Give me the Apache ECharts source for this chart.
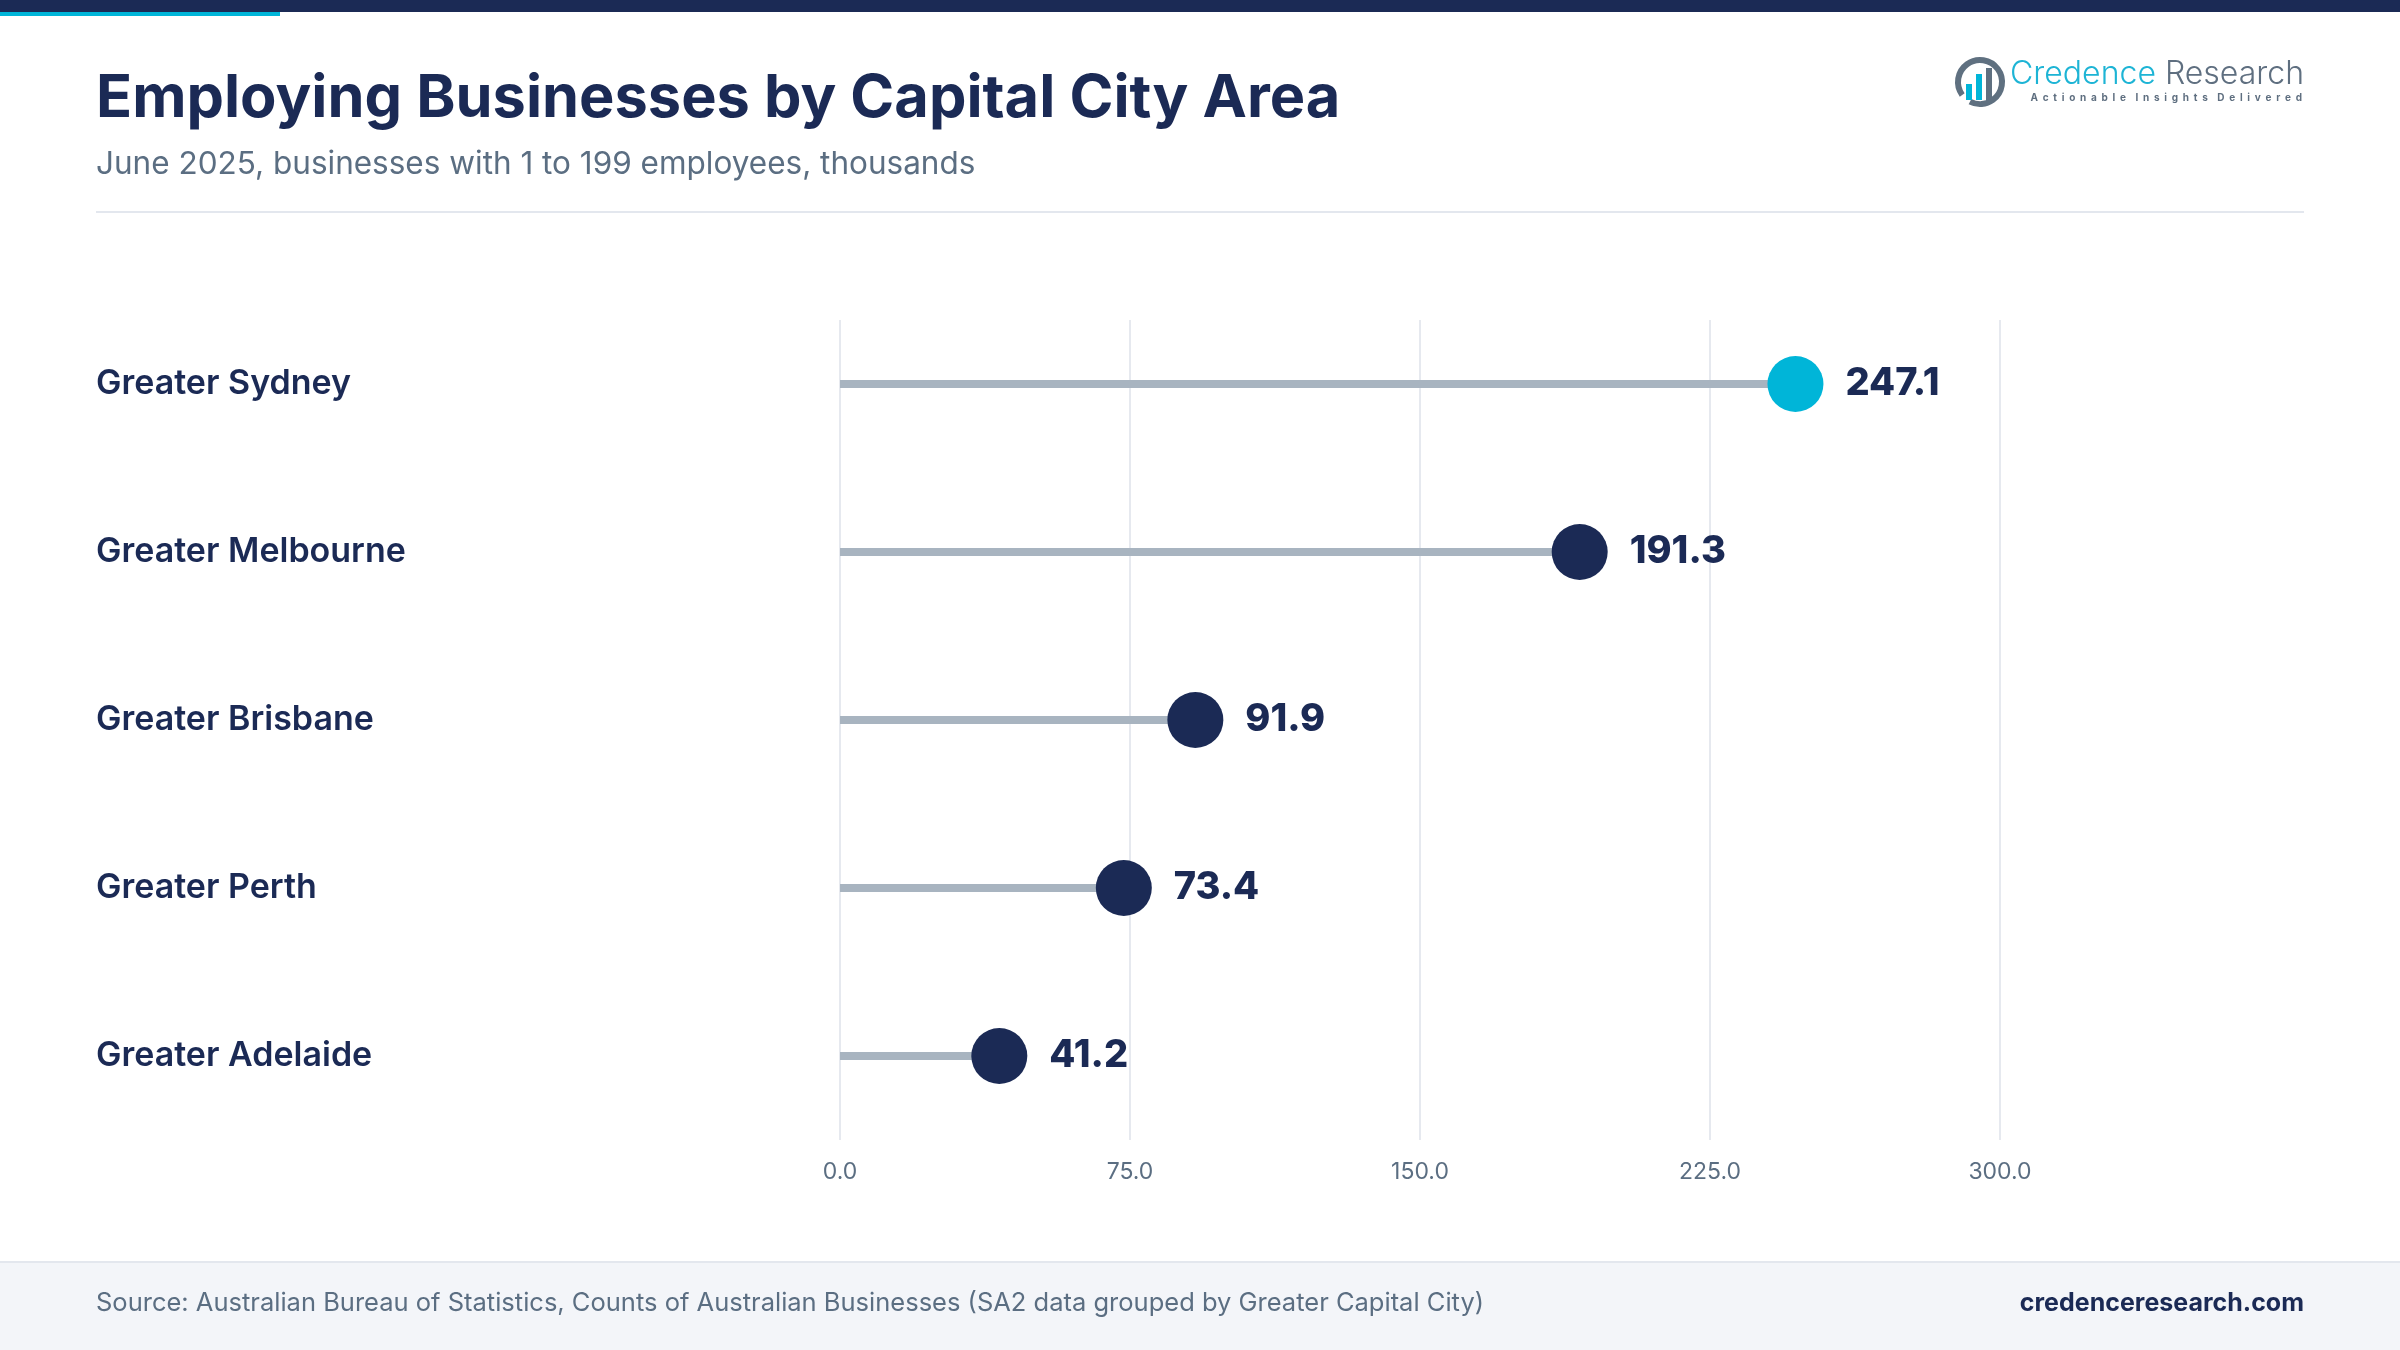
<!DOCTYPE html>
<html>
<head>
<meta charset="utf-8">
<script src="https://cdn.jsdelivr.net/npm/echarts@6/dist/echarts.min.js"></script>
<style>
  html, body { margin: 0; padding: 0; background: #fff; }
  #chart { width: 2400px; height: 1350px; }
</style>
</head>
<body>
<div id="chart"></div>
<script>
// data
const categories = ['Greater Sydney', 'Greater Melbourne', 'Greater Brisbane', 'Greater Perth', 'Greater Adelaide']
const values = [247.1, 191.3, 91.9, 73.4, 41.2]
const highlightIndex = 0
const xMin = 0
const xMax = 300
const xStep = 75

const NAVY = '#1b2a55'
const CYAN = '#00b5d8'
const STEM = '#a8b4c0'
const MUTED = '#5b6e82'
const FONT = 'Inter, "Open Sans", sans-serif'

const chart = echarts.init(document.getElementById('chart'))

const option = {
  backgroundColor: '#ffffff',
  textStyle: { fontFamily: FONT },
  title: [
    {
      text: 'Employing Businesses by Capital City Area',
      left: 91,
      top: 61,
      textStyle: { color: NAVY, fontSize: 59.5, fontWeight: 700, lineHeight: 66, fontFamily: FONT }
    },
    {
      text: 'June 2025, businesses with 1 to 199 employees, thousands',
      left: 91,
      top: 141,
      textStyle: { color: MUTED, fontSize: 31.5, fontWeight: 400, lineHeight: 38, fontFamily: FONT }
    }
  ],
  grid: [
    // data grid
    { left: 840, right: 400, top: 300, bottom: 210 },
    // grid carrying the value-axis gridlines and tick labels
    { left: 840, right: 400, top: 320, bottom: 210 }
  ],
  xAxis: [
    { gridIndex: 0, type: 'value', min: xMin, max: xMax, show: false },
    {
      gridIndex: 1,
      type: 'value',
      min: xMin,
      max: xMax,
      interval: xStep,
      axisLine: { show: false },
      axisTick: { show: false },
      splitLine: { lineStyle: { color: '#e6e9ef', width: 2 } },
      axisLabel: {
        color: MUTED,
        fontSize: 23,
        margin: 21,
        formatter: v => v.toFixed(1)
      }
    }
  ],
  yAxis: [
    {
      gridIndex: 0,
      type: 'category',
      data: categories,
      inverse: true,
      axisLine: { show: false },
      axisTick: { show: false },
      axisLabel: {
        align: 'left',
        margin: 744,
        color: NAVY,
        fontSize: 34,
        fontWeight: 600
      }
    },
    { gridIndex: 1, type: 'value', min: 0, max: 1, show: false }
  ],
  series: [
    {
      type: 'bar',
      xAxisIndex: 0,
      yAxisIndex: 0,
      barWidth: 8,
      silent: true,
      itemStyle: { color: STEM },
      data: values
    },
    {
      type: 'scatter',
      xAxisIndex: 0,
      yAxisIndex: 0,
      symbolSize: 56,
      z: 3,
      itemStyle: { opacity: 1 },
      data: values.map((v, i) => ({
        value: [v, i],
        itemStyle: { color: i === highlightIndex ? CYAN : NAVY, opacity: 1 }
      })),
      label: {
        show: true,
        position: 'right',
        distance: 22,
        color: NAVY,
        fontSize: 38,
        fontWeight: 800,
        formatter: p => p.value[0].toFixed(1)
      }
    }
  ],
  graphic: [
    // top band
    { type: 'rect', left: 0, top: 0, shape: { width: 2400, height: 12 }, style: { fill: NAVY }, silent: true },
    { type: 'rect', left: 0, top: 12, shape: { width: 280, height: 4 }, style: { fill: CYAN }, silent: true },
    // divider under the subtitle
    { type: 'line', shape: { x1: 96, y1: 212, x2: 2304, y2: 212 }, style: { stroke: '#e3e7ee', lineWidth: 2 }, silent: true },
    // logo
    { type: 'arc', shape: { cx: 1980, cy: 82, r: 22, startAngle: Math.PI * 0.8, endAngle: Math.PI * 0.65 + Math.PI * 2 }, style: { stroke: '#5f7080', lineWidth: 6, fill: null }, silent: true },
    { type: 'rect', shape: { x: 1966, y: 84, width: 6, height: 16 }, style: { fill: CYAN }, silent: true },
    { type: 'rect', shape: { x: 1976, y: 74, width: 6, height: 26 }, style: { fill: CYAN }, silent: true },
    { type: 'rect', shape: { x: 1986, y: 68, width: 6, height: 32 }, style: { fill: '#5f7080' }, silent: true },
    {
      type: 'text',
      style: {
        x: 2304,
        y: 74,
        text: '{a|Credence}{b| Research}',
        align: 'right',
        verticalAlign: 'middle',
        rich: {
          a: { fontFamily: FONT, fontSize: 32, fontWeight: 300, fill: '#1db4d5' },
          b: { fontFamily: FONT, fontSize: 32, fontWeight: 300, fill: '#5f6f80' }
        }
      },
      silent: true
    },
    {
      type: 'text',
      style: {
        x: 2302,
        y: 98,
        text: 'A  c  t  i  o  n  a  b  l  e    I  n  s  i  g  h  t  s    D  e  l  i  v  e  r  e  d',
        align: 'right',
        verticalAlign: 'middle',
        fontFamily: FONT,
        fontSize: 10,
        fontWeight: 700,
        fill: '#5f6f80'
      },
      silent: true
    },
    // footer
    { type: 'rect', left: 0, top: 1262, shape: { width: 2400, height: 88 }, style: { fill: '#f3f5f9' }, silent: true },
    { type: 'line', shape: { x1: 0, y1: 1262, x2: 2400, y2: 1262 }, style: { stroke: '#e3e7ee', lineWidth: 2 }, silent: true },
    {
      type: 'text',
      style: {
        x: 96,
        y: 1303,
        text: 'Source: Australian Bureau of Statistics, Counts of Australian Businesses (SA2 data grouped by Greater Capital City)',
        verticalAlign: 'middle',
        fontFamily: FONT,
        fontSize: 25.5,
        fill: MUTED
      },
      silent: true
    },
    {
      type: 'text',
      style: {
        x: 2304,
        y: 1303,
        text: 'credenceresearch.com',
        align: 'right',
        verticalAlign: 'middle',
        fontFamily: FONT,
        fontSize: 25,
        fontWeight: 700,
        fill: NAVY
      },
      silent: true
    }
  ]
}

chart.setOption(option)
</script>
</body>
</html>
